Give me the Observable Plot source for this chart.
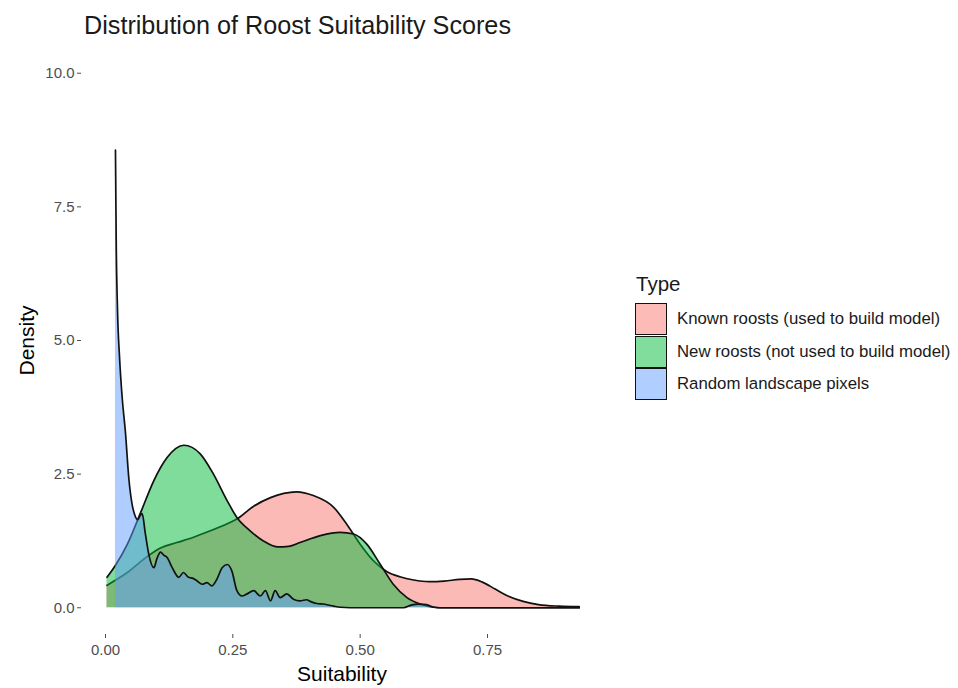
<!DOCTYPE html>
<html><head><meta charset="utf-8">
<script src="https://cdn.jsdelivr.net/npm/d3@7"></script>
<script src="https://cdn.jsdelivr.net/npm/@observablehq/plot@0.6"></script>
<style>
body{margin:0;background:#fff;font-family:"Liberation Sans",Arial,sans-serif;}
#wrap{position:relative;width:958px;height:688px;overflow:hidden;}
#title{height:46px;box-sizing:border-box;padding-left:84px;padding-top:11px;font-size:25.2px;line-height:28px;color:#1a1a1a;}
#legend{position:absolute;left:635px;top:272px;color:#1a1a1a;}
#legend .lt{font-size:20.5px;line-height:24px;margin-bottom:7px;margin-left:1px;}
#legend .row{display:flex;align-items:center;height:32.5px;}
#legend .key{width:30px;height:30px;border:1.6px solid #111;box-sizing:content-box;}
#legend .lab{font-size:16.8px;margin-left:10px;white-space:nowrap;}
g[aria-label="y-axis label"] text, g[aria-label="x-axis label"] text{font-size:21px;fill:#000;}
</style>
</head><body>
<div id="wrap">
<div id="title">Distribution of Roost Suitability Scores</div>
<div id="chart"></div>
<div id="legend"></div>
</div>
<script>
const types = ["Known roosts (used to build model)", "New roosts (not used to build model)", "Random landscape pixels"];
const colors = ["#F8766D", "#00BA38", "#619CFF"];
const xTicks = [0, 0.25, 0.5, 0.75];
const yTicks = [0, 2.5, 5, 7.5, 10];

const knownRoosts = [
  [0.003, 0.42], [0.02, 0.52], [0.043, 0.66], [0.065, 0.83], [0.085, 0.98], [0.108, 1.12],
  [0.14, 1.22], [0.173, 1.32], [0.206, 1.44], [0.239, 1.57], [0.258, 1.66], [0.291, 1.9],
  [0.324, 2.06], [0.35, 2.14], [0.375, 2.17], [0.408, 2.1], [0.448, 1.88], [0.474, 1.56],
  [0.5, 1.19], [0.526, 0.88], [0.552, 0.68], [0.578, 0.58], [0.605, 0.52], [0.635, 0.49],
  [0.665, 0.5], [0.695, 0.53], [0.718, 0.54], [0.74, 0.48], [0.765, 0.35], [0.79, 0.22],
  [0.82, 0.12], [0.85, 0.06], [0.89, 0.03], [0.93, 0.02]
];
const newRoosts = [
  [0.003, 0.57], [0.02, 0.8], [0.043, 1.19], [0.069, 1.78], [0.095, 2.38], [0.121, 2.81],
  [0.154, 3.04], [0.186, 2.88], [0.212, 2.5], [0.239, 2.0], [0.258, 1.69], [0.284, 1.44],
  [0.31, 1.25], [0.337, 1.14], [0.36, 1.15], [0.382, 1.22], [0.422, 1.35], [0.461, 1.41],
  [0.487, 1.38], [0.513, 1.19], [0.539, 0.82], [0.565, 0.44], [0.592, 0.19], [0.618, 0.07],
  [0.644, 0.01], [0.67, 0.0], [0.93, 0.0]
];
const randomPixels = [
  [0.0196, 8.56], [0.021, 6.9], [0.0235, 5.6], [0.0275, 4.7], [0.033, 3.9], [0.039, 3.3],
  [0.046, 2.4], [0.052, 1.95], [0.057, 1.75], [0.063, 1.65], [0.068, 1.72], [0.072, 1.76],
  [0.078, 1.4], [0.085, 1.0], [0.095, 0.75], [0.101, 0.92], [0.108, 1.04], [0.115, 0.98],
  [0.121, 0.94], [0.131, 0.75], [0.144, 0.57], [0.153, 0.66], [0.163, 0.57], [0.172, 0.55],
  [0.18, 0.5], [0.19, 0.44], [0.199, 0.47], [0.209, 0.41], [0.219, 0.54], [0.229, 0.75],
  [0.239, 0.81], [0.248, 0.69], [0.258, 0.32], [0.268, 0.22], [0.278, 0.26], [0.291, 0.32],
  [0.304, 0.22], [0.314, 0.32], [0.324, 0.13], [0.333, 0.32], [0.343, 0.19], [0.356, 0.26],
  [0.369, 0.16], [0.382, 0.13], [0.395, 0.15], [0.402, 0.12], [0.415, 0.08], [0.428, 0.07],
  [0.448, 0.03], [0.461, 0.01], [0.5, 0.0], [0.585, 0.0], [0.6, 0.05], [0.615, 0.07],
  [0.63, 0.06], [0.645, 0.01], [0.66, 0.0], [0.93, 0.0]
];

const series = [knownRoosts, newRoosts, randomPixels];
const table = series.flatMap((s, i) => s.map(([x, y]) => ({type: types[i], x, y})));

const marks = [];
types.forEach(t => {
  const d = table.filter(r => r.type === t);
  marks.push(Plot.areaY(d, {x: "x", y: "y", fill: "type", fillOpacity: 0.5, curve: "monotone-x"}));
  marks.push(Plot.lineY(d, {x: "x", y: "y", stroke: "#111", strokeWidth: 1.7, curve: "monotone-x"}));
});

const chart = Plot.plot({
  width: 620, height: 642,
  marginLeft: 81, marginRight: 18, marginTop: 0, marginBottom: 54,
  style: {fontFamily: "'Liberation Sans', Arial, sans-serif", background: "white"},
  x: {domain: [-0.0471, 0.9758]},
  y: {domain: [-0.5, 10.5]},
  color: {domain: types, range: colors},
  marks: [
    ...marks,
    Plot.axisX({ticks: xTicks, tickFormat: d3.format(".2f"), tickSize: 4, tickPadding: 6, fontSize: 15, color: "#4d4d4d",
      label: "Suitability", labelAnchor: "center", labelArrow: "none", labelOffset: 46}),
    Plot.axisY({ticks: yTicks, tickFormat: d3.format(".1f"), tickSize: 4, tickPadding: 3, fontSize: 15, color: "#4d4d4d",
      label: "Density", labelAnchor: "center", labelArrow: "none", labelOffset: 62})
  ]
});
document.getElementById("chart").appendChild(chart);

const lg = document.getElementById("legend");
const lt = document.createElement("div"); lt.className = "lt"; lt.textContent = "Type"; lg.appendChild(lt);
types.forEach((t, i) => {
  const row = document.createElement("div"); row.className = "row";
  const key = document.createElement("div"); key.className = "key";
  key.style.background = d3.interpolateRgb("white", colors[i])(0.5);
  const lab = document.createElement("div"); lab.className = "lab"; lab.textContent = t;
  row.appendChild(key); row.appendChild(lab); lg.appendChild(row);
});
</script>
</body></html>
